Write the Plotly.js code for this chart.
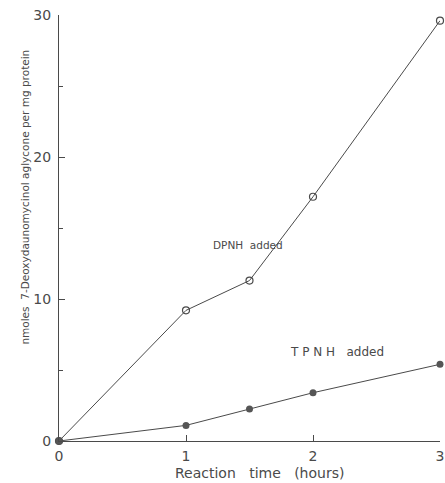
<!DOCTYPE html>
<html>
<head>
<meta charset="utf-8">
<script src="https://cdn.plot.ly/plotly-3.0.1.min.js"></script>
<style>html,body{margin:0;padding:0;background:#fff;}</style>
</head>
<body>
<div id="chart" style="width:445px;height:483px;"></div>
<script>
const hours = [0, 1, 1.5, 2, 3];
const dpnh = [0, 9.2, 11.3, 17.2, 29.6];
const tpnh = [0, 1.1, 2.25, 3.4, 5.4];
const xTicks = [0, 1, 2, 3];
const yTicks = [0, 10, 20, 30];

const ink = '#4a4a4a';
const font = 'DejaVu Sans, sans-serif';

const traces = [
  {x: hours, y: dpnh, mode: 'lines+markers', name: 'DPNH added',
   line: {color: ink, width: 1},
   marker: {symbol: 'circle-open', size: 7, color: ink, line: {width: 1.2, color: ink}},
   cliponaxis: false},
  {x: hours, y: tpnh, mode: 'lines+markers', name: 'TPNH added',
   line: {color: ink, width: 1},
   marker: {symbol: 'circle', size: 7, color: '#555'},
   cliponaxis: false}
];

const layout = {
  width: 445, height: 483,
  margin: {l: 59, r: 5, t: 15, b: 42},
  paper_bgcolor: '#fff', plot_bgcolor: '#fff',
  showlegend: false,
  font: {family: font, color: ink, size: 14},
  xaxis: {
    range: [0, 3], tickvals: xTicks, ticktext: xTicks.map(String),
    showgrid: false, zeroline: false, showline: true, linecolor: ink, linewidth: 1,
    ticks: 'inside', ticklen: 6, tickcolor: ink, tickwidth: 1,
    tickfont: {family: font, size: 14, color: ink}, ticklabelstandoff: 2
  },
  yaxis: {
    range: [0, 30], tickvals: yTicks, ticktext: yTicks.map(String),
    showgrid: false, zeroline: false, showline: true, linecolor: ink, linewidth: 1,
    ticks: 'inside', ticklen: 6, tickcolor: ink, tickwidth: 1,
    minor: {tickvals: [5, 15, 25], ticks: 'inside', ticklen: 4, tickcolor: ink},
    tickfont: {family: font, size: 14, color: ink}, ticklabelstandoff: 4
  },
  annotations: [
    {text: 'Reaction   time   (hours)', xref: 'paper', yref: 'paper',
     x: 0.525, y: -0.074, xanchor: 'center', yanchor: 'middle', showarrow: false,
     font: {family: font, size: 14, color: ink}},
    {text: 'nmoles  7-Deoxydaunomycinol aglycone per mg protein', xref: 'paper', yref: 'paper',
     x: -0.09, y: 0.573, xanchor: 'center', yanchor: 'middle', textangle: -90, showarrow: false,
     font: {family: font, size: 10.5, color: ink}},
    {text: 'DPNH  added', x: 1.49, y: 13.8, showarrow: false,
     font: {family: font, size: 10.5, color: ink}},
    {text: 'T P N H   added', x: 2.19, y: 6.27, showarrow: false,
     font: {family: font, size: 12, color: ink}}
  ]
};

Plotly.newPlot('chart', traces, layout, {displayModeBar: false, staticPlot: true});
</script>
</body>
</html>
